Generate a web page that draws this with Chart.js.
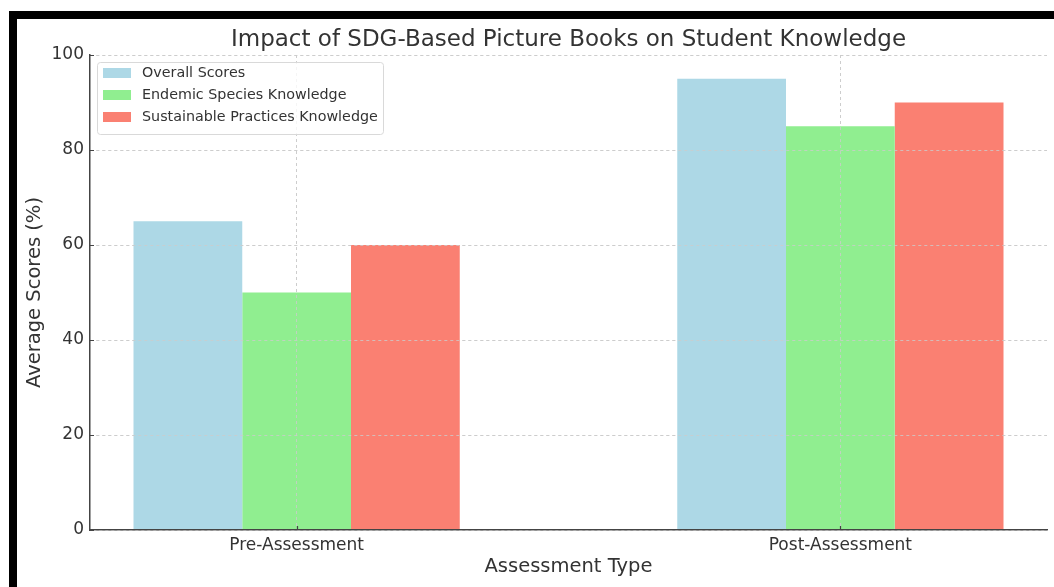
<!DOCTYPE html>
<html>
<head>
<meta charset="utf-8">
<script src="https://cdn.jsdelivr.net/npm/chart.js@4.4.1/dist/chart.umd.min.js"></script>
<style>
  html, body { margin: 0; padding: 0; background: #fff; overflow: hidden; }
  #wrap { position: absolute; left: 0; top: 0; width: 1054px; height: 587px; }
  .edge { position: absolute; background: #000; }
</style>
</head>
<body>
<div id="wrap">
  <canvas id="chart" width="1054" height="587"></canvas>
</div>
<div class="edge" style="left:9px; top:11px; width:1045px; height:8px;"></div>
<div class="edge" style="left:9px; top:11px; width:8px; height:576px;"></div>
<script>
const FONT = '"DejaVu Sans", sans-serif';
const TEXT = '#333333';

const categories = ['Pre-Assessment', 'Post-Assessment'];
const seriesNames = ['Overall Scores', 'Endemic Species Knowledge', 'Sustainable Practices Knowledge'];
const overallScores = [65, 95];
const endemicKnowledge = [50, 85];
const practicesKnowledge = [60, 90];
const yTicks = [0, 20, 40, 60, 80, 100];

const COLORS = ['#ADD8E6', '#90EE90', '#FA8072'];

function toPoints(values) {
  return values.map((v, i) => ({ x: i, y: v }));
}

// grid drawn over the bars, then the spines and small inward ticks
const gridOnTop = {
  id: 'gridOnTop',
  afterDatasetsDraw(chart) {
    const { ctx, chartArea } = chart;
    const xs = chart.scales.x, ys = chart.scales.y;
    ctx.save();
    ctx.beginPath();
    ctx.rect(chartArea.left, chartArea.top, chartArea.right - chartArea.left, chartArea.bottom - chartArea.top);
    ctx.clip();
    xs.drawGrid(chartArea);
    ys.drawGrid(chartArea);
    ctx.restore();
    xs.drawBorder();
    ys.drawBorder();

    ctx.save();
    ctx.strokeStyle = '#444444';
    ctx.lineWidth = 1.2;
    ctx.beginPath();
    xs.ticks.forEach(t => {
      const px = Math.round(xs.getPixelForValue(t.value)) + 0.5;
      ctx.moveTo(px, chartArea.bottom);
      ctx.lineTo(px, chartArea.bottom - 4);
    });
    ys.ticks.forEach(t => {
      const py = Math.round(ys.getPixelForValue(t.value)) + 0.5;
      ctx.moveTo(chartArea.left, py);
      ctx.lineTo(chartArea.left + 4, py);
    });
    ctx.stroke();
    ctx.restore();
  }
};

// legend box in the upper left of the plot
const boxLegend = {
  id: 'boxLegend',
  afterDraw(chart) {
    const { ctx, chartArea } = chart;
    const x0 = chartArea.left + 7, y0 = chartArea.top + 7;
    const w = 286, h = 72;
    ctx.save();
    ctx.fillStyle = 'rgba(255,255,255,0.8)';
    ctx.strokeStyle = '#d9d9d9';
    ctx.lineWidth = 1;
    ctx.beginPath();
    ctx.roundRect(x0 + 0.5, y0 + 0.5, w, h, 3);
    ctx.fill();
    ctx.stroke();
    ctx.font = '14.3px ' + FONT;
    ctx.textBaseline = 'middle';
    ctx.textAlign = 'left';
    chart.data.datasets.forEach((ds, i) => {
      const cy = y0 + 11 + i * 22;
      ctx.fillStyle = ds.backgroundColor;
      ctx.fillRect(x0 + 6, cy - 5, 28, 10);
      ctx.fillStyle = TEXT;
      ctx.fillText(ds.label, x0 + 45, cy);
    });
    ctx.restore();
  }
};

const gridStyle = {
  color: '#cccccc',
  lineWidth: 0.8,
  drawTicks: false,
  offset: false
};
const borderStyle = { display: true, color: '#444444', width: 1.3, dash: [3, 3] };

new Chart(document.getElementById('chart'), {
  type: 'bar',
  data: {
    datasets: [
      { label: seriesNames[0], data: toPoints(overallScores), backgroundColor: COLORS[0] },
      { label: seriesNames[1], data: toPoints(endemicKnowledge), backgroundColor: COLORS[1] },
      { label: seriesNames[2], data: toPoints(practicesKnowledge), backgroundColor: COLORS[2] },
    ],
  },
  options: {
    responsive: false,
    animation: false,
    categoryPercentage: 0.6,
    barPercentage: 1.0,
    layout: { padding: { left: 0, right: 7, top: 0, bottom: 0 } },
    plugins: {
      legend: { display: false },
      tooltip: { enabled: false },
      title: {
        display: true,
        fullSize: false,
        text: 'Impact of SDG-Based Picture Books on Student Knowledge',
        color: TEXT,
        font: { family: FONT, size: 23, weight: 'normal' },
        padding: { top: 26, bottom: 1.4 },
      },
    },
    scales: {
      x: {
        type: 'linear',
        offset: false,
        min: -0.38,
        max: 1.38,
        afterBuildTicks: (scale) => { scale.ticks = categories.map((c, i) => ({ value: i })); },
        afterFit: (scale) => { scale.height = 57; },
        ticks: {
          autoSkip: false,
          maxRotation: 0,
          padding: 5,
          color: TEXT,
          font: { family: FONT, size: 17 },
          callback: (v) => categories[v],
        },
        grid: Object.assign({}, gridStyle),
        border: Object.assign({}, borderStyle),
        title: {
          display: true,
          text: 'Assessment Type',
          color: TEXT,
          font: { family: FONT, size: 19.5 },
          padding: { top: 8, bottom: 8 },
        },
      },
      y: {
        min: 0,
        max: 100,
        afterBuildTicks: (scale) => { scale.ticks = yTicks.map(v => ({ value: v })); },
        afterFit: (scale) => { scale.width = 90; },
        ticks: {
          padding: 6,
          color: TEXT,
          font: { family: FONT, size: 17 },
        },
        grid: Object.assign({}, gridStyle),
        border: Object.assign({}, borderStyle),
        title: {
          display: true,
          text: 'Average Scores (%)',
          color: TEXT,
          font: { family: FONT, size: 19.5 },
          padding: { top: 23, bottom: 4 },
        },
      },
    },
  },
  plugins: [gridOnTop, boxLegend],
});
</script>
</body>
</html>
